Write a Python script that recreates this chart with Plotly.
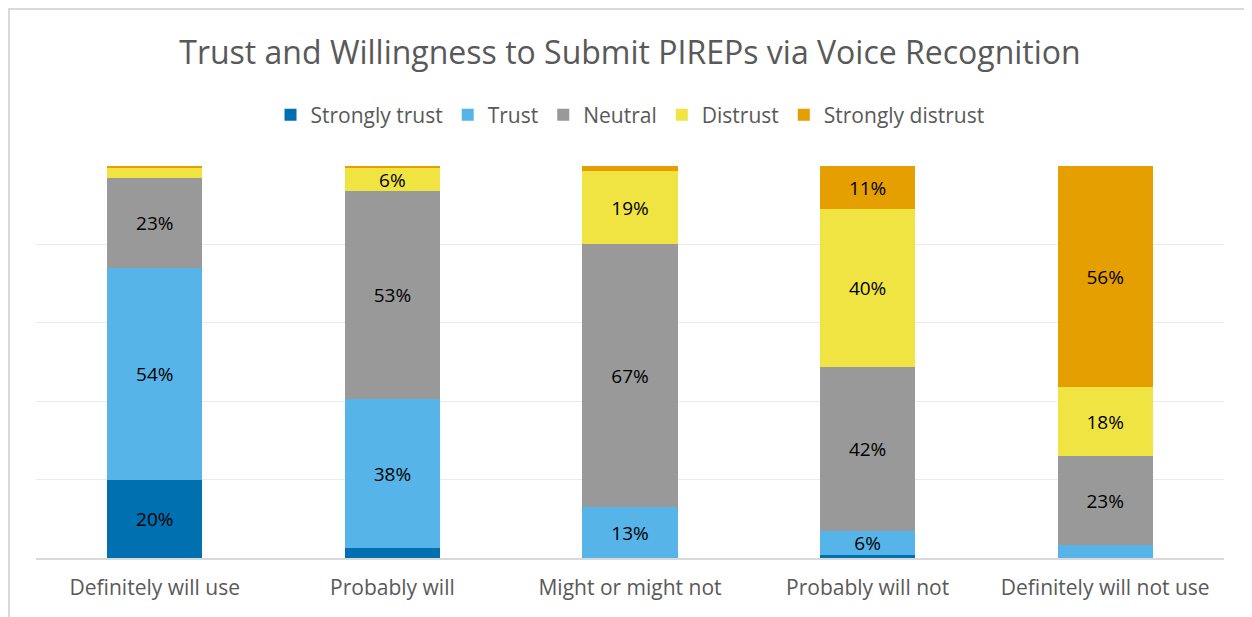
import plotly.graph_objects as go

# Категории и доли ответов (%)
categories = ["Definitely will use", "Probably will", "Might or might not",
              "Probably will not", "Definitely will not use"]
series_names = ["Strongly trust", "Trust", "Neutral", "Distrust", "Strongly distrust"]
strongly_trust = [20, 2.5, 0, 0.8, 0]
trust = [54, 38, 13, 6, 3.3]
neutral = [23, 53, 67, 42, 22.7]
distrust = [2.5, 6, 18.6, 40.2, 17.6]
strongly_distrust = [0.5, 0.5, 1.4, 11, 56.4]
colors = ["#0070b0", "#56b4e9", "#999999", "#f0e442", "#e69f00"]

fig = go.Figure()
for name, vals, col in zip(series_names,
                           [strongly_trust, trust, neutral, distrust, strongly_distrust],
                           colors):
    # подписи только для заметных сегментов
    labels = [f"{round(v)}%" if v >= 5 else "" for v in vals]
    fig.add_trace(go.Bar(x=categories, y=vals, name=name, marker_color=col,
                         marker_line_width=0, text=labels, textposition="inside",
                         insidetextanchor="middle", textangle=0,
                         constraintext="none",
                         textfont=dict(size=19, color="#000000"),
                         width=0.4))

# страница добавляет отступ 8px, поэтому фигура чуть меньше окна
fig.update_layout(
    barmode="stack",
    width=1244, height=609,
    margin=dict(l=28, r=28, t=158, b=59),
    paper_bgcolor="white", plot_bgcolor="white",
    font=dict(family="Open Sans, sans-serif", color="#595959"),
    title=dict(text="Trust and Willingness to Submit PIREPs via Voice Recognition",
               x=0.5, xanchor="center", y=0.927, yanchor="middle",
               font=dict(size=32, color="#595959")),
    legend=dict(orientation="h", x=0.5, xanchor="center", y=1.13, yanchor="middle",
                font=dict(size=21, color="#595959"), traceorder="normal",
                itemwidth=30),
    showlegend=True,
)
fig.update_xaxes(tickfont=dict(size=21, color="#595959"), showline=True,
                 linecolor="#d9d9d9", linewidth=2, ticks="", ticklabelstandoff=10)
fig.update_yaxes(range=[0, 100], dtick=20, showticklabels=False, showgrid=True,
                 gridcolor="#ebebeb", gridwidth=1, zeroline=False)

# рамка диаграммы (видны только верх и левый край)
fig.add_shape(type="line", xref="paper", yref="paper",
              x0=(0 - 28) / 1188, x1=1.05, y0=(392 + 158 - 1) / 392, y1=(392 + 158 - 1) / 392,
              line=dict(color="#d9d9d9", width=2))
fig.add_shape(type="line", xref="paper", yref="paper",
              x0=(1 - 28) / 1188, x1=(1 - 28) / 1188, y0=(392 + 158) / 392, y1=-0.2,
              line=dict(color="#d9d9d9", width=2))

fig.write_html("out.html")
